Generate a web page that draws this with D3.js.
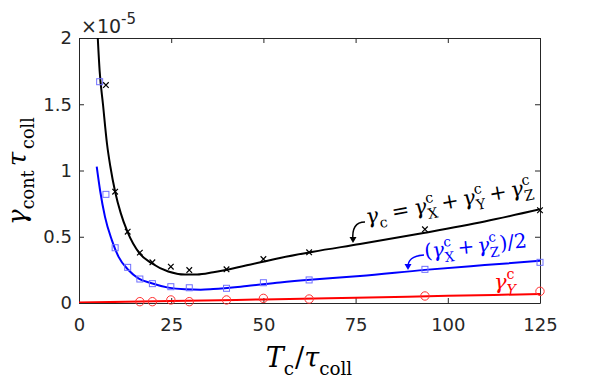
<!DOCTYPE html>
<html><head><meta charset="utf-8">
<script src="https://cdn.jsdelivr.net/npm/d3@7"></script>
<style>
html,body{margin:0;padding:0;background:#fff;}
svg{display:block;}
svg text{white-space:pre;}
</style></head>
<body>
<svg id="chart" width="598" height="381"></svg>
<script>
// ---------- data ----------
const xTicks = [0, 25, 50, 75, 100, 125];
const xTickLabels = ["0", "25", "50", "75", "100", "125"];
const yTicks = [0, 0.5, 1, 1.5, 2];
const yTickLabels = ["0", "0.5", "1", "1.5", "2"];

// fitted curves (values in units of 1e-5)
const blackCurveT = [5.0, 5.6, 6.5, 7.6, 8.5, 9.8, 11.3, 13.1, 16.4, 19.7, 24.2, 28.7, 32, 36.4, 45.5, 54.5, 63.5, 76.2, 93.8, 110, 125];
const blackCurveV = [2.05, 1.75, 1.50, 1.20, 1.03, 0.84, 0.68, 0.54, 0.375, 0.30, 0.238, 0.215, 0.215, 0.232, 0.285, 0.34, 0.387, 0.445, 0.53, 0.615, 0.707];
const blueCurveT = [4.8, 5.7, 7.05, 8.9, 10.7, 13.4, 16.1, 19.7, 24.2, 28.7, 33, 36.4, 45.5, 54.5, 63.5, 76.2, 93.8, 110, 125];
const blueCurveV = [1.03, 0.853, 0.65, 0.475, 0.35, 0.249, 0.186, 0.149, 0.116, 0.103, 0.10, 0.105, 0.128, 0.155, 0.177, 0.203, 0.25, 0.286, 0.318];
const redCurveT = [0, 25, 50, 75, 100, 125];
const redCurveV = [0.003, 0.015, 0.027, 0.040, 0.054, 0.068];

// simulation points
const blackT = [7.3, 9.8, 13.2, 16.5, 19.9, 24.9, 29.9, 40, 50, 62.4, 93.8, 125];
const blackV = [1.645, 0.84, 0.538, 0.38, 0.307, 0.274, 0.249, 0.254, 0.332, 0.383, 0.556, 0.70];
const blueT = [5.6, 7.3, 9.8, 13.2, 16.5, 19.9, 24.9, 29.9, 40, 50, 62.4, 93.8, 125];
const blueV = [1.67, 0.82, 0.417, 0.269, 0.181, 0.146, 0.123, 0.115, 0.111, 0.153, 0.174, 0.254, 0.307];
const redT = [16.5, 19.9, 24.9, 29.9, 40, 50, 62.4, 93.8, 125];
const redV = [0.01, 0.01, 0.023, 0.01, 0.023, 0.035, 0.03, 0.053, 0.088];

// ---------- layout ----------
const L = 79, R = 540, T = 38, B = 303;
const svg = d3.select("#chart");
const x = d3.scaleLinear().domain([0, 125]).range([L, R]);
const y = d3.scaleLinear().domain([0, 2]).range([B, T]);
const axisColor = "#262626";
const tickFont = "DejaVu Sans, sans-serif";
const mathFont = "DejaVu Serif, serif";

svg.append("defs").append("clipPath").attr("id", "clip")
  .append("rect").attr("x", L).attr("y", T).attr("width", R - L).attr("height", B - T);

// axes with inward ticks
const axB = d3.axisBottom(x).tickValues(xTicks).tickFormat((d, i) => xTickLabels[i]).tickSizeInner(-5).tickSizeOuter(0).tickPadding(15);
const axT = d3.axisTop(x).tickValues(xTicks).tickFormat("").tickSizeInner(-5).tickSizeOuter(0);
const axL = d3.axisLeft(y).tickValues(yTicks).tickFormat((d, i) => yTickLabels[i]).tickSizeInner(-5).tickSizeOuter(0).tickPadding(7);
const axR = d3.axisRight(y).tickValues(yTicks).tickFormat("").tickSizeInner(-5).tickSizeOuter(0);

function styleAxis(g) {
  g.select(".domain").attr("stroke", axisColor).attr("stroke-width", 1);
  g.selectAll(".tick line").attr("stroke", axisColor).attr("stroke-width", 1);
  g.selectAll(".tick text").attr("fill", axisColor).style("font-family", tickFont).style("font-size", "18px");
}
svg.append("g").attr("transform", `translate(0,${B})`).call(axB).call(styleAxis);
svg.append("g").attr("transform", `translate(0,${T})`).call(axT).call(styleAxis);
svg.append("g").attr("transform", `translate(${L},0)`).call(axL).call(styleAxis);
svg.append("g").attr("transform", `translate(${R},0)`).call(axR).call(styleAxis);

// exponent label
const ex = svg.append("text").attr("x", 81).attr("y", 33).attr("fill", axisColor)
  .style("font-family", tickFont).style("font-size", "19px");
ex.append("tspan").text("×10");
ex.append("tspan").attr("dy", -9).style("font-size", "15px").text("-5");

// ---------- curves ----------
const plot = svg.append("g").attr("clip-path", "url(#clip)");
const line = d3.line().x(d => x(d[0])).y(d => y(d[1])).curve(d3.curveMonotoneX);
function zip(a, b) { return a.map((v, i) => [v, b[i]]); }

plot.append("path").datum(zip(redCurveT, redCurveV)).attr("d", line)
  .attr("fill", "none").attr("stroke", "#ff0000").attr("stroke-width", 2);
plot.append("path").datum(zip(blueCurveT, blueCurveV)).attr("d", line)
  .attr("fill", "none").attr("stroke", "#0000ff").attr("stroke-width", 2);
plot.append("path").datum(zip(blackCurveT, blackCurveV)).attr("d", line)
  .attr("fill", "none").attr("stroke", "#000000").attr("stroke-width", 2);

// markers
const mk = svg.append("g");
mk.selectAll(".sq").data(zip(blueT, blueV)).enter().append("rect")
  .attr("x", d => x(d[0]) - 3).attr("y", d => y(d[1]) - 3).attr("width", 6).attr("height", 6)
  .attr("fill", "none").attr("stroke", "#6f6fff").attr("stroke-width", 1);
mk.selectAll(".ci").data(zip(redT, redV)).enter().append("circle")
  .attr("cx", d => x(d[0])).attr("cy", d => y(d[1])).attr("r", 4.2)
  .attr("fill", "none").attr("stroke", "#ff3030").attr("stroke-width", 1);
mk.selectAll(".xm").data(zip(blackT, blackV)).enter().append("path")
  .attr("d", d => { const cx = x(d[0]), cy = y(d[1]), s = 2.8; return `M${cx - s},${cy - s}L${cx + s},${cy + s}M${cx - s},${cy + s}L${cx + s},${cy - s}`; })
  .attr("stroke", "#000").attr("stroke-width", 1.2).attr("fill", "none");

// ---------- math text helper ----------
// parts: {t, it, pad} normal text, or {sup, sub, itSub}
function mathText(parent, parts, fs, color) {
  let cx = 0;
  const g = parent.append("g");
  const small = fs * 0.68;
  parts.forEach(p => {
    if (p.t !== undefined) {
      cx += p.pad || 0;
      const el = g.append("text").attr("x", cx).attr("y", 0).attr("fill", color)
        .style("font-family", mathFont).style("font-size", fs + "px")
        .style("font-style", p.it ? "italic" : "normal").text(p.t);
      cx += el.node().getComputedTextLength() + (p.pad || 0);
    } else {
      let w = 0;
      if (p.sup !== undefined) {
        const el = g.append("text").attr("x", cx).attr("y", -fs * 0.46).attr("fill", color)
          .style("font-family", mathFont).style("font-size", small + "px").text(p.sup);
        w = Math.max(w, el.node().getComputedTextLength());
      }
      if (p.sub !== undefined) {
        const el = g.append("text").attr("x", cx).attr("y", fs * 0.3).attr("fill", color)
          .style("font-family", mathFont).style("font-size", small + "px")
          .style("font-style", p.itSub ? "italic" : "normal").text(p.sub);
        w = Math.max(w, el.node().getComputedTextLength());
      }
      cx += w + 1;
    }
  });
  return { g, width: cx };
}

// axis titles
{
  const m = mathText(svg, [{ t: "T", it: true }, { sub: "c" }, { t: "/" }, { t: "τ", it: true }, { sub: "coll" }], 27, "#000");
  m.g.attr("transform", `translate(${(L + R) / 2 - m.width / 2},367)`);
}
{
  const m = mathText(svg, [{ t: "γ", it: true }, { sub: "cont" }, { t: "τ", it: true, pad: 3 }, { sub: "coll" }], 26, "#000");
  m.g.attr("transform", `translate(26,${(T + B) / 2 + m.width / 2}) rotate(-90)`);
}

// annotations
{
  const m = mathText(svg, [{ t: "γ", it: true }, { sub: "c" }, { t: "=", pad: 5 }, { t: "γ", it: true }, { sup: "c", sub: "X" }, { t: "+", pad: 4 },
    { t: "γ", it: true }, { sup: "c", sub: "Y" }, { t: "+", pad: 4 }, { t: "γ", it: true }, { sup: "c", sub: "Z" }], 21, "#000");
  m.g.attr("transform", `translate(367,224) rotate(-10.5)`);
}
{
  const m = mathText(svg, [{ t: "(" }, { t: "γ", it: true }, { sup: "c", sub: "X" }, { t: "+", pad: 3 }, { t: "γ", it: true }, { sup: "c", sub: "Z" }, { t: ")/2" }], 20, "#0000ff");
  m.g.attr("transform", `translate(425,258) rotate(-6)`);
}
{
  const m = mathText(svg, [{ t: "γ", it: true }, { sup: "c", sub: "Y", itSub: true }], 21, "#ff0000");
  m.g.attr("transform", `translate(494,289)`);
}

// arrows
function arrow(pathD, tipX, tipY, color) {
  svg.append("path").attr("d", pathD).attr("fill", "none").attr("stroke", color).attr("stroke-width", 1.5);
  svg.append("path").attr("d", `M${tipX - 3.5},${tipY - 6}L${tipX},${tipY}L${tipX + 3.5},${tipY - 6}Z`).attr("fill", color);
}
arrow("M365,222 Q351,222 353,241", 353, 243, "#000");
arrow("M424,255 Q407,256 408,268", 408, 270, "#0000ff");
</script>
</body></html>
